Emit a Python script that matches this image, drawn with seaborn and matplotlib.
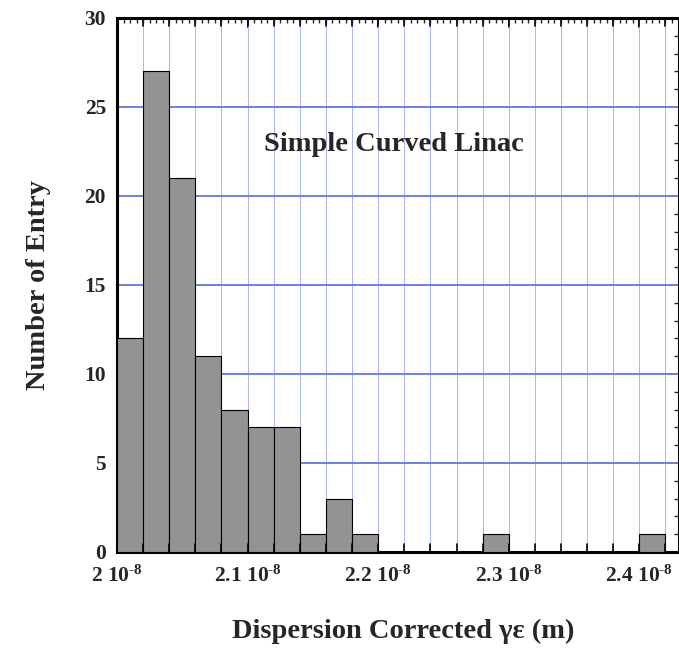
import numpy as np
import matplotlib
matplotlib.use("Agg")
import matplotlib.pyplot as plt
import seaborn as sns
from matplotlib.ticker import FixedLocator, FixedFormatter, MultipleLocator

# ---- data ----
bin_edges = [2.00e-8, 2.02e-8, 2.04e-8, 2.06e-8, 2.08e-8, 2.10e-8, 2.12e-8, 2.14e-8,
             2.16e-8, 2.18e-8, 2.20e-8, 2.22e-8, 2.24e-8, 2.26e-8, 2.28e-8, 2.30e-8,
             2.32e-8, 2.34e-8, 2.36e-8, 2.38e-8, 2.40e-8, 2.42e-8]
counts = [12, 27, 21, 11, 8, 7, 7, 1, 3, 1, 0, 0, 0, 0, 1, 0, 0, 0, 0, 0, 1]
xtick_values = [2.0e-8, 2.1e-8, 2.2e-8, 2.3e-8, 2.4e-8]
xtick_labels = [r"2 10$^{\text{-8}}$", r"2.1 10$^{\text{-8}}$", r"2.2 10$^{\text{-8}}$",
                r"2.3 10$^{\text{-8}}$", r"2.4 10$^{\text{-8}}$"]
ytick_values = [0, 5, 10, 15, 20, 25, 30]
annotation = "Simple Curved Linac"
xlabel = "Dispersion Corrected γε (m)"
ylabel = "Number of Entry"

sns.set_theme(style="white")
plt.rcParams['font.family'] = ['Liberation Serif', 'DejaVu Serif']
plt.rcParams['font.weight'] = 'bold'
plt.rcParams['mathtext.fontset'] = 'custom'
plt.rcParams['mathtext.rm'] = 'Liberation Serif:bold'
plt.rcParams['mathtext.it'] = 'Liberation Serif:bold'
plt.rcParams['mathtext.bf'] = 'Liberation Serif:bold'
plt.rcParams['mathtext.default'] = 'rm'

centers = [(bin_edges[i] + bin_edges[i + 1]) / 2 for i in range(len(counts))]

fig = plt.figure(figsize=(6.79, 6.49), dpi=100)
ax = fig.add_axes([0.1723, 0.1495, 0.8270, 0.8228])

sns.histplot(x=centers, weights=counts, bins=bin_edges, ax=ax,
             color="#939393", edgecolor="black", linewidth=0.8, alpha=1.0, zorder=3)

ax.set_xlim(2.0e-8, 2.43e-8)
ax.set_ylim(0, 30)

# grid: vertical at each bin edge, horizontal at majors
for e in bin_edges[1:]:
    ax.axvline(e, color="#aab4f0", lw=0.7, zorder=1)
for yv in ytick_values[1:-1]:
    ax.axhline(yv, color="#6f80e2", lw=1.4, zorder=1)

ax.xaxis.set_major_locator(FixedLocator(xtick_values))
ax.xaxis.set_major_formatter(FixedFormatter(xtick_labels))
ax.yaxis.set_major_locator(FixedLocator(ytick_values))
ax.yaxis.set_minor_locator(MultipleLocator(1))

minor_x = [2.0e-8 + k * 0.005e-8 for k in range(0, 87)]
ax.xaxis.set_minor_locator(FixedLocator(minor_x))

ax.tick_params(axis="x", which="major", direction="in", length=7, width=1.2,
               top=True, labelsize=15.5, pad=10)
ax.tick_params(axis="y", which="major", direction="in", length=7, width=1.2,
               right=True, labelsize=15.5, pad=8)
ax.tick_params(axis="both", which="minor", direction="in", length=3.5, width=1.0,
               top=True, right=True)
for e in bin_edges:
    ax.plot([e, e], [0, 0.45], color="black", lw=1.2, zorder=4, clip_on=False)
    ax.plot([e, e], [30, 29.55], color="black", lw=1.2, zorder=4, clip_on=False)

for lbl in ax.get_xticklabels() + ax.get_yticklabels():
    lbl.set_fontweight("bold")

for s in ax.spines.values():
    s.set_linewidth(2.2)
    s.set_color("black")
    s.set_visible(True)

ax.set_xlabel(xlabel, fontsize=20.5, fontweight="bold")
ax.xaxis.set_label_coords(0.51, -0.126)
ax.set_ylabel(ylabel, fontsize=20.5, fontweight="bold", labelpad=24)

ax.text(2.212e-8, 22.9, annotation, fontsize=20.5, fontweight="bold",
        ha="center", va="center", zorder=5)

fig.savefig("out.png", dpi=100)
